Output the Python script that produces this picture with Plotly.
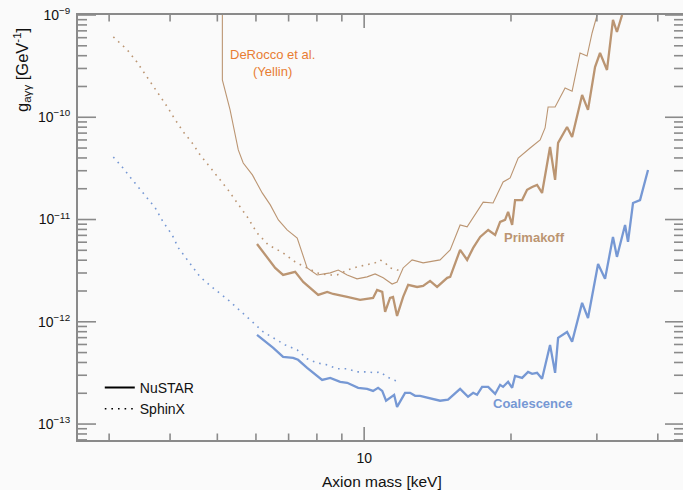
import math
import plotly.graph_objects as go

# ---------------- data ----------------
# DeRocco et al. (Yellin)
derocco_mass = [5.12, 5.12, 5.31, 5.52, 5.65, 5.90, 6.18, 6.42, 6.67, 6.95, 7.29, 7.46, 7.64, 8.01,
                8.52, 8.85, 9.23, 9.67, 10.14, 10.53, 10.94, 11.41, 11.68, 12.02, 12.54, 13.21, 14.31,
                15.01, 15.73, 16.26, 17.54, 18.38, 19.27, 19.92, 20.69, 21.89, 22.95, 23.49, 23.83,
                24.63, 25.82, 26.69, 27.71, 28.64, 29.33, 30.03]
derocco_g = [1e-9, 2.32e-10, 1.18e-10, 4.79e-11, 3.57e-11, 2.73e-11, 1.82e-11, 1.39e-11, 9.9e-12,
             7.91e-12, 6.6e-12, 4.72e-12, 3.36e-12, 2.87e-12, 3.01e-12, 3.21e-12, 2.87e-12, 2.63e-12,
             2.75e-12, 2.94e-12, 2.69e-12, 2.34e-12, 2.45e-12, 3.36e-12, 4.03e-12, 3.77e-12, 4.03e-12,
             5.05e-12, 8.85e-12, 8.47e-12, 1.48e-11, 1.45e-11, 2.33e-11, 2.55e-11, 4.0e-11, 5.01e-11,
             6.0e-11, 7.86e-11, 1.26e-10, 1.26e-10, 1.93e-10, 1.80e-10, 4.25e-10, 3.97e-10, 6.67e-10,
             1e-9]

# NuSTAR
nustar_prim_mass = [6.03, 6.57, 6.82, 7.22, 7.50, 8.05, 8.40, 8.64, 9.23, 9.81, 10.43, 10.63, 10.89,
                    11.04, 11.30, 11.46, 11.68, 12.02, 12.31, 12.84, 13.21, 13.65, 14.11, 14.80, 15.01,
                    15.73, 16.26, 16.73, 17.29, 17.96, 18.56, 19.00, 19.45, 19.73, 20.11, 20.39, 21.08,
                    21.58, 22.10, 22.62, 23.16, 24.05, 24.63, 24.98, 26.06, 26.69, 27.98, 28.77, 29.74,
                    30.45, 31.47, 32.37, 32.98, 33.79]
nustar_prim_g = [5.77e-12, 3.36e-12, 2.87e-12, 3.08e-12, 2.45e-12, 1.83e-12, 1.96e-12, 1.87e-12,
                 1.75e-12, 1.64e-12, 1.71e-12, 2.05e-12, 1.96e-12, 1.25e-12, 1.71e-12, 1.75e-12,
                 1.14e-12, 1.75e-12, 2.30e-12, 2.19e-12, 2.24e-12, 2.51e-12, 2.19e-12, 2.69e-12,
                 2.75e-12, 5.05e-12, 4.03e-12, 5.28e-12, 6.76e-12, 7.91e-12, 7.07e-12, 9.48e-12,
                 9.91e-12, 1.19e-11, 8.85e-12, 1.55e-11, 1.55e-11, 1.95e-11, 2.08e-11, 2.18e-11,
                 1.82e-11, 5.12e-11, 2.44e-11, 5.61e-11, 8.04e-11, 6.42e-11, 1.65e-10, 1.18e-10,
                 3.10e-10, 4.25e-10, 2.90e-10, 8.94e-10, 6.82e-10, 1e-9]

nustar_coal_mass = [6.03, 6.51, 6.82, 7.15, 7.32, 7.64, 8.20, 8.52, 8.93, 9.23, 9.72, 10.14, 10.43,
                    10.68, 10.89, 11.09, 11.52, 11.68, 12.13, 12.42, 12.72, 13.02, 14.31, 14.86, 15.73,
                    16.33, 16.73, 17.04, 17.45, 17.96, 18.56, 19.00, 19.27, 19.73, 20.11, 20.39, 21.08,
                    21.68, 22.10, 22.62, 23.16, 24.05, 24.63, 24.98, 26.06, 26.69, 27.98, 28.77, 30.17,
                    31.18, 32.37, 32.98, 34.27, 34.75, 35.58, 36.78, 38.19]
nustar_coal_g = [7.45e-13, 5.56e-13, 4.54e-13, 4.44e-13, 4.25e-13, 3.54e-13, 2.70e-13, 2.83e-13,
                 2.59e-13, 2.53e-13, 2.26e-13, 2.21e-13, 2.11e-13, 2.26e-13, 2.11e-13, 1.69e-13,
                 1.93e-13, 1.47e-13, 2.02e-13, 2.02e-13, 1.89e-13, 1.89e-13, 1.69e-13, 1.73e-13,
                 2.21e-13, 1.85e-13, 2.02e-13, 1.93e-13, 2.31e-13, 2.31e-13, 1.97e-13, 2.42e-13,
                 2.31e-13, 2.59e-13, 2.26e-13, 2.96e-13, 2.83e-13, 3.24e-13, 3.10e-13, 3.17e-13,
                 2.77e-13, 5.94e-13, 3.17e-13, 6.97e-13, 7.96e-13, 6.37e-13, 1.53e-12, 1.09e-12,
                 3.68e-12, 2.63e-12, 6.76e-12, 4.31e-12, 8.85e-12, 6.04e-12, 1.45e-11, 1.55e-11,
                 3.05e-11]

# SphinX
sphinx_prim_mass = [3.06, 3.27, 3.42, 3.59, 3.78, 3.95, 4.10, 4.26, 4.44, 4.61, 4.79, 5.07, 5.26,
                    5.44, 5.76, 6.03, 6.36, 6.82, 7.22, 7.64, 8.01, 8.40, 8.80, 9.01, 9.23, 9.67,
                    10.14, 10.53, 10.78, 11.04, 11.30, 11.68, 11.85]
sphinx_prim_g = [6.10e-10, 4.55e-10, 3.47e-10, 2.48e-10, 1.73e-10, 1.26e-10, 9.42e-11, 7.18e-11,
                 5.61e-11, 4.28e-11, 3.42e-11, 2.44e-11, 1.95e-11, 1.55e-11, 1.06e-11, 7.40e-12,
                 5.65e-12, 4.72e-12, 3.85e-12, 3.36e-12, 3.01e-12, 2.87e-12, 2.87e-12, 3.01e-12,
                 3.21e-12, 3.44e-12, 3.60e-12, 3.77e-12, 4.03e-12, 3.77e-12, 3.36e-12, 3.21e-12,
                 3.21e-12]

sphinx_coal_mass = [3.06, 3.19, 3.31, 3.44, 3.59, 3.73, 3.87, 4.04, 4.16, 4.34, 4.61, 4.90, 5.26,
                    5.90, 6.21, 6.51, 6.89, 7.29, 7.64, 8.01, 8.40, 8.80, 9.23, 9.67, 10.14, 10.53,
                    10.78, 11.15, 11.46, 11.85]
sphinx_coal_g = [4.09e-11, 3.27e-11, 2.61e-11, 2.08e-11, 1.66e-11, 1.30e-11, 9.48e-12, 7.07e-12,
                 5.28e-12, 4.03e-12, 2.75e-12, 2.14e-12, 1.64e-12, 9.98e-13, 7.96e-13, 6.97e-13,
                 5.94e-13, 5.31e-13, 4.34e-13, 3.96e-13, 3.79e-13, 3.47e-13, 3.47e-13, 3.24e-13,
                 3.24e-13, 3.17e-13, 3.24e-13, 2.89e-13, 2.70e-13, 2.59e-13]

x_major_ticks = [10]
x_major_labels = ["10"]
x_minor_ticks = [3, 4, 5, 6, 7, 8, 9, 20, 30, 40]
y_major_ticks = [1e-13, 1e-12, 1e-11, 1e-10, 1e-9]
y_major_labels = ["10<sup>\u221213</sup>", "10<sup>\u221212</sup>", "10<sup>\u221211</sup>",
                  "10<sup>\u221210</sup>", "10<sup>\u22129</sup>"]
y_minor_ticks = [m * 10.0 ** k for k in range(-14, -9) for m in range(2, 10)]

# ---------------- styling ----------------
TAN = "#bb9572"
BLUE = "#7698d4"
ORANGE = "#e87d33"
AXC = "#8a8a8a"
BG = "#fafafa"
FONT = "Liberation Sans, Arial, Helvetica, sans-serif"
DOT = "1.6px,5px"
XRANGE = [math.log10(2.59), math.log10(45.05)]
YRANGE = [-13.156, -9.0]
PLOT_W, PLOT_H = 605, 425

fig = go.Figure()

fig.add_trace(go.Scatter(x=derocco_mass, y=derocco_g, mode="lines",
                         line=dict(color=TAN, width=1.1), showlegend=False))
fig.add_trace(go.Scatter(x=sphinx_prim_mass, y=sphinx_prim_g, mode="lines",
                         line=dict(color=TAN, width=1.6, dash=DOT), showlegend=False))
fig.add_trace(go.Scatter(x=sphinx_coal_mass, y=sphinx_coal_g, mode="lines",
                         line=dict(color=BLUE, width=1.6, dash=DOT), showlegend=False))
fig.add_trace(go.Scatter(x=nustar_prim_mass, y=nustar_prim_g, mode="lines",
                         line=dict(color=TAN, width=2.3), showlegend=False))
fig.add_trace(go.Scatter(x=nustar_coal_mass, y=nustar_coal_g, mode="lines",
                         line=dict(color=BLUE, width=2.3), showlegend=False))

# legend entries
fig.add_trace(go.Scatter(x=[None], y=[None], mode="lines", name="NuSTAR",
                         line=dict(color="black", width=2)))
fig.add_trace(go.Scatter(x=[None], y=[None], mode="lines", name="SphinX",
                         line=dict(color="black", width=1.6, dash=DOT)))

common = dict(showgrid=False, zeroline=False, showline=True, linecolor=AXC, linewidth=2,
              mirror=True, ticks="")

fig.update_layout(
    width=683, height=490,
    margin=dict(l=78, r=0, t=15, b=50, autoexpand=False),
    paper_bgcolor=BG, plot_bgcolor=BG,
    font=dict(family=FONT, size=14, color="#111"),
    showlegend=True,
    legend=dict(x=0.036, y=0.16, xanchor="left", yanchor="top",
                bgcolor="rgba(0,0,0,0)", font=dict(size=14, family=FONT),
                itemwidth=30, tracegroupgap=0),
    xaxis=dict(type="log", range=XRANGE, tickmode="array", tickvals=x_major_ticks,
               ticktext=x_major_labels, tickfont=dict(size=14), ticklabelstandoff=4, **common),
    yaxis=dict(type="log", range=YRANGE, tickmode="array", tickvals=y_major_ticks,
               ticktext=y_major_labels, ticklabelstandoff=3, tickfont=dict(size=14), **common),
)


# tick marks (inside, on all four sides), placed along the log axis ranges
def xfrac(v):
    return (math.log10(v) - XRANGE[0]) / (XRANGE[1] - XRANGE[0])


def yfrac(v):
    return (math.log10(v) - YRANGE[0]) / (YRANGE[1] - YRANGE[0])


tick_line = dict(color=AXC, width=1.6)
for vals, length in ((x_major_ticks, 13), (x_minor_ticks, 6.5)):
    for v in vals:
        f = xfrac(v)
        if 0 < f < 1:
            h = length / PLOT_H
            fig.add_shape(type="line", xref="paper", yref="paper", x0=f, x1=f, y0=0, y1=h,
                          line=tick_line, layer="above")
            fig.add_shape(type="line", xref="paper", yref="paper", x0=f, x1=f, y0=1 - h, y1=1,
                          line=tick_line, layer="above")
for vals, length in ((y_major_ticks, 18), (y_minor_ticks, 9)):
    for v in vals:
        f = yfrac(v)
        if 0 < f <= 1:
            w = length / PLOT_W
            fig.add_shape(type="line", xref="paper", yref="paper", x0=0, x1=w, y0=f, y1=f,
                          line=tick_line, layer="above")
            fig.add_shape(type="line", xref="paper", yref="paper", x0=1 - w, x1=1, y0=f, y1=f,
                          line=tick_line, layer="above")

# axis titles
fig.add_annotation(text="Axion mass [keV]", xref="paper", yref="paper",
                   x=(382 - 78) / 605, y=-(481 - 440) / 425, xanchor="center", yanchor="middle",
                   showarrow=False, font=dict(size=15.5, color="#111"))
fig.add_annotation(text="g<sub>a\u03b3\u03b3</sub> [GeV<sup>-1</sup>]", xref="paper", yref="paper",
                   x=-(78 - 22) / 605, y=1.0 - 11 / 425, xanchor="center", yanchor="top",
                   textangle=-90, showarrow=False, font=dict(size=16.5, color="#111"))

# curve labels
fig.add_annotation(text="DeRocco et al.<br>(Yellin)", xref="paper", yref="paper",
                   x=(272 - 78) / 605, y=(440 - 63) / 425, xanchor="center", yanchor="middle",
                   showarrow=False, font=dict(size=13, color=ORANGE))
fig.add_annotation(text="<b>Primakoff</b>", xref="paper", yref="paper",
                   x=(534 - 78) / 605, y=(440 - 238) / 425, xanchor="center", yanchor="middle",
                   showarrow=False, font=dict(size=13, color=TAN))
fig.add_annotation(text="<b>Coalescence</b>", xref="paper", yref="paper",
                   x=(533 - 78) / 605, y=(440 - 403) / 425, xanchor="center", yanchor="middle",
                   showarrow=False, font=dict(size=13, color=BLUE))

fig.write_html("out.html", config={"displayModeBar": False},
               post_script="document.body.style.margin='0px';"
                           "document.body.style.background='" + BG + "';")
